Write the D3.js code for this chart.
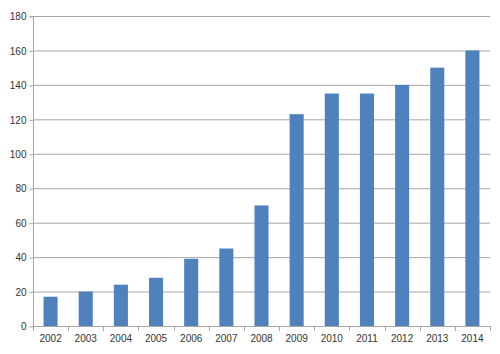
<!DOCTYPE html>
<html><head><meta charset="utf-8">
<script src="https://cdn.jsdelivr.net/npm/d3@7"></script>
<style>body{margin:0;background:#fff}svg{display:block}</style>
</head><body><svg id="c" width="500" height="354"></svg>
<script>
const years = ["2002","2003","2004","2005","2006","2007","2008","2009","2010","2011","2012","2013","2014"];
const values = [17,20,24,28,39,45,70,123,135,135,140,150,160];
const yTicks = [0,20,40,60,80,100,120,140,160,180];

const svg = d3.select("#c");
const L=33, R=490, T=16, B=326;
const x = d3.scaleBand().domain(years).range([L,R]);
const y = d3.scaleLinear().domain([0,180]).range([B,T]);
const font = "Liberation Sans, Arial, sans-serif";

// gridlines
svg.append("g").selectAll("line").data(yTicks.filter(d=>d>0)).join("line")
  .attr("x1",L).attr("x2",R).attr("y1",d=>y(d)+0.5).attr("y2",d=>y(d)+0.5)
  .attr("stroke","#a6a6a6").attr("stroke-width",1);

// y axis
const ya = svg.append("g").attr("transform",`translate(${L+0.5},0.5)`)
  .call(d3.axisLeft(y).tickValues(yTicks).tickSize(4).tickPadding(3));
ya.select(".domain").attr("stroke","#a6a6a6").attr("d",`M-4,${T}H0V${B}`);
ya.selectAll(".tick line").attr("stroke","#a6a6a6");
ya.selectAll("text").attr("fill","#333").style("font-family",font).style("font-size","10px");

// bars
const bw = x.bandwidth()*0.4;
svg.append("g").selectAll("rect").data(values).join("rect")
  .attr("x",(d,i)=>x(years[i])+x.bandwidth()/2-bw/2)
  .attr("y",d=>y(d)).attr("width",bw).attr("height",d=>B-y(d))
  .attr("fill","#4f81bd");

// x axis
const xa = svg.append("g").attr("transform",`translate(0,${B+0.5})`)
  .call(d3.axisBottom(x).tickSize(0).tickPadding(8));
xa.select(".domain").attr("stroke","#a6a6a6").attr("d",`M${L},0H${R}`);
xa.selectAll("text").attr("fill","#333").style("font-family",font).style("font-size","10px");
// boundary ticks
const bounds = years.map(d=>x(d)).concat([R]);
svg.append("g").selectAll("line").data(bounds).join("line")
  .attr("x1",d=>Math.round(d)+0.5).attr("x2",d=>Math.round(d)+0.5)
  .attr("y1",B).attr("y2",B+5).attr("stroke","#a6a6a6");
</script></body></html>
